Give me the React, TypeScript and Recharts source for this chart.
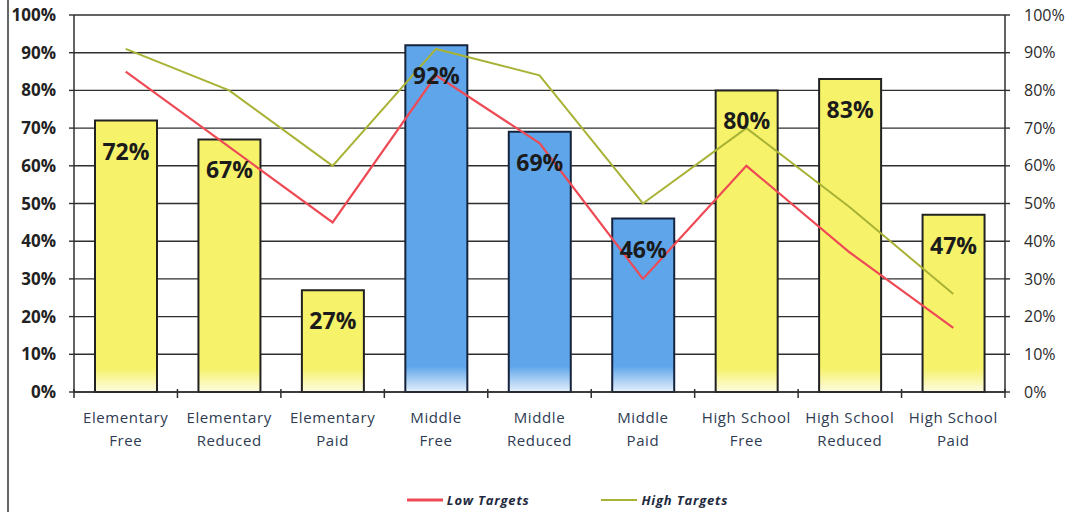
import { ComposedChart, Bar, Line, XAxis, YAxis, CartesianGrid, Legend, LabelList, Cell } from 'recharts'

const categories = [
  'Elementary\nFree',
  'Elementary\nReduced',
  'Elementary\nPaid',
  'Middle\nFree',
  'Middle\nReduced',
  'Middle\nPaid',
  'High School\nFree',
  'High School\nReduced',
  'High School\nPaid',
]
const rates = [72, 67, 27, 92, 69, 46, 80, 83, 47]
const lowTargets = [85, 65, 45, 84, 66, 30, 60, 37, 17]
const highTargets = [91, 80, 60, 91, 84, 50, 70, 49, 26]
const levels = ['elem', 'elem', 'elem', 'middle', 'middle', 'middle', 'high', 'high', 'high']
const percentTicks = [0, 10, 20, 30, 40, 50, 60, 70, 80, 90, 100]

const data = categories.map((name, i) => ({
  name,
  rate: rates[i],
  low: lowTargets[i],
  high: highTargets[i],
  level: levels[i],
}))

const FONT = '"Open Sans", "Noto Sans", sans-serif'
const AXIS = '#2f2f2f'

// category label in two lines, with Excel-style tick marks between the categories
// eslint-disable-next-line @typescript-eslint/no-explicit-any
function CategoryTick(props: any) {
  const { x, y, payload, index } = props
  const half = typeof payload?.offset === 'number' ? payload.offset : null
  const lines = String(payload.value).split('\n')
  return (
    <g>
      {half !== null && (
        <line x1={x - half} x2={x - half} y1={y - 3} y2={y + 6} stroke={AXIS} strokeWidth={1.5} />
      )}
      {half !== null && index === categories.length - 1 && (
        <line x1={x + half} x2={x + half} y1={y - 3} y2={y + 6} stroke={AXIS} strokeWidth={1.5} />
      )}
      {lines.map((t, i) => (
        <text
          key={t}
          x={x}
          y={y + 31 + i * 23}
          textAnchor="middle"
          fill="#2e3b52"
          fontFamily={FONT}
          fontSize={15}
          letterSpacing={0.6}
        >
          {t}
        </text>
      ))}
    </g>
  )
}

// eslint-disable-next-line @typescript-eslint/no-explicit-any
function RateLabel(props: any) {
  const { x, y, width, value } = props
  return (
    <text
      x={x + width / 2}
      y={y + 30}
      textAnchor="middle"
      dominantBaseline="central"
      fill="#1b1b1b"
      fontFamily={FONT}
      fontWeight={700}
      fontSize={23}
    >
      {value}%
    </text>
  )
}

function TargetsLegend() {
  const item = (color: string, width: number, label: string) => (
    <div style={{ display: 'flex', alignItems: 'center', gap: 4 }}>
      <svg width={36} height={6}>
        <line x1={0} x2={36} y1={3} y2={3} stroke={color} strokeWidth={width} />
      </svg>
      <span
        style={{
          fontFamily: FONT,
          fontStyle: 'italic',
          fontWeight: 700,
          fontSize: 13,
          letterSpacing: 0.8,
          color: '#1f2a40',
        }}
      >
        {label}
      </span>
    </div>
  )
  return (
    <div style={{ height: 40, display: 'flex', justifyContent: 'center', alignItems: 'center', gap: 72, paddingLeft: 62, paddingTop: 12, boxSizing: 'border-box' }}>
      {item('#ee4a55', 3, 'Low Targets')}
      {item('#a8b235', 2, 'High Targets')}
    </div>
  )
}

export default function App() {
  return (
    <div style={{ position: 'absolute', left: 0, top: 0, width: 1073, height: 514, background: '#fff' }}>
      <div style={{ position: 'absolute', left: 7, top: 0, width: 2, height: 512, background: '#666' }} />
      <ComposedChart width={1073} height={514} data={data} margin={{ top: 15, right: 0, left: 0, bottom: 0 }}>
        <defs>
          {/* solid colour down to the last ~20px, then a pale fade at the base */}
          <linearGradient id="yellowFill" gradientUnits="userSpaceOnUse" x1="0" y1="368" x2="0" y2="392">
            <stop offset="0%" stopColor="#f6f26a" />
            <stop offset="100%" stopColor="#fdfce2" />
          </linearGradient>
          <linearGradient id="blueFill" gradientUnits="userSpaceOnUse" x1="0" y1="366" x2="0" y2="392">
            <stop offset="0%" stopColor="#5ea5ea" />
            <stop offset="100%" stopColor="#e6f1fc" />
          </linearGradient>
        </defs>
        <CartesianGrid vertical={false} stroke={AXIS} strokeWidth={1.4} yAxisId="left" />
        <XAxis
          dataKey="name"
          height={82}
          interval={0}
          tickSize={0}
          tickMargin={0}
          tickLine={false}
          axisLine={{ stroke: AXIS, strokeWidth: 1.5 }}
          tick={<CategoryTick />}
        />
        <YAxis
          yAxisId="left"
          width={74}
          domain={[0, 100]}
          ticks={percentTicks}
          tickFormatter={(v) => `${v}%`}
          tickSize={5}
          tickMargin={13}
          axisLine={{ stroke: AXIS, strokeWidth: 1.5 }}
          tickLine={{ stroke: AXIS, strokeWidth: 1.4 }}
          tick={{ fill: '#222', fontFamily: FONT, fontWeight: 700, fontSize: 17 }}
        />
        <YAxis
          yAxisId="right"
          orientation="right"
          width={68}
          domain={[0, 100]}
          ticks={percentTicks}
          tickFormatter={(v) => `${v}%`}
          tickSize={5}
          tickMargin={14}
          axisLine={{ stroke: AXIS, strokeWidth: 1.5 }}
          tickLine={{ stroke: AXIS, strokeWidth: 1.4 }}
          tick={{ fill: '#2a2a2a', fontFamily: FONT, fontSize: 16 }}
        />
        <Legend verticalAlign="bottom" content={<TargetsLegend />} />
        <Bar yAxisId="left" dataKey="rate" barSize={62} strokeWidth={2} isAnimationActive={false} legendType="none">
          {data.map((d) => (
            <Cell
              key={d.name}
              fill={d.level === 'middle' ? 'url(#blueFill)' : 'url(#yellowFill)'}
              stroke={d.level === 'middle' ? '#16233d' : '#222'}
            />
          ))}
          <LabelList dataKey="rate" content={<RateLabel />} />
        </Bar>
        <Line
          yAxisId="left"
          dataKey="low"
          name="Low Targets"
          stroke="#ee4a55"
          strokeWidth={2.2}
          dot={false}
          activeDot={false}
          isAnimationActive={false}
        />
        {/* both axes share 0–100, so the high targets ride on the right axis */}
        <Line
          yAxisId="right"
          dataKey="high"
          name="High Targets"
          stroke="#a8b235"
          strokeWidth={2}
          dot={false}
          activeDot={false}
          isAnimationActive={false}
        />
      </ComposedChart>
    </div>
  )
}
